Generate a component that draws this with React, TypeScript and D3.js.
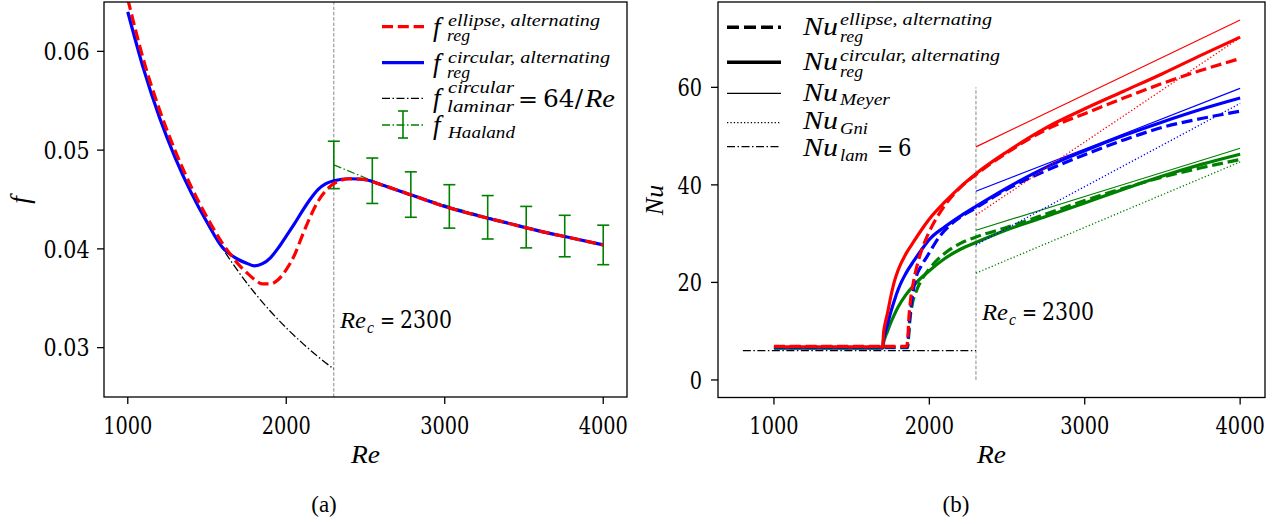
import React from 'react';
import * as d3 from 'd3';

// ---------------- Panel (a): friction factor ----------------
const reReg = [1000, 1100, 1200, 1300, 1400, 1500, 1600, 1650, 1700, 1750, 1800, 1850, 1900, 1950, 2000, 2050, 2100, 2150, 2200, 2250, 2300, 2400, 2500, 2600, 2800, 3000, 3200, 3400, 3600, 3800, 4000];
const fCircular = [0.0640, 0.0582, 0.0533, 0.0492, 0.0457, 0.0427, 0.0401, 0.0394, 0.0389, 0.03855, 0.03828, 0.0385, 0.0391, 0.0401, 0.0413, 0.0425, 0.0438, 0.0450, 0.0460, 0.0466, 0.0469, 0.0471, 0.0470, 0.0465, 0.0454, 0.0443, 0.0434, 0.0426, 0.0418, 0.0411, 0.0404];
const fEllipse = [0.0653, 0.0591, 0.0541, 0.0499, 0.0463, 0.0432, 0.0405, 0.0394, 0.0384, 0.0376, 0.0369, 0.03645, 0.03645, 0.0369, 0.0379, 0.0393, 0.0413, 0.0432, 0.0448, 0.0459, 0.0466, 0.0471, 0.0470, 0.0465, 0.0454, 0.0443, 0.0434, 0.0426, 0.0418, 0.0411, 0.0404];
const reLaminar = [1000, 1100, 1200, 1300, 1400, 1500, 1600, 1700, 1800, 1900, 2000, 2100, 2200, 2300];
const fLaminar = [0.0640, 0.05818, 0.05333, 0.04923, 0.04571, 0.04267, 0.0400, 0.03765, 0.03556, 0.03368, 0.0320, 0.03048, 0.02909, 0.02783];
const reHaaland = [2300, 2543, 2786, 3029, 3271, 3514, 3757, 4000];
const fHaaland = [0.0485, 0.0469, 0.0455, 0.0443, 0.0432, 0.0422, 0.0413, 0.0404];
const errHaaland = [0.0024, 0.0023, 0.0023, 0.0022, 0.0022, 0.0021, 0.0021, 0.0020];
const fTicks = [0.03, 0.04, 0.05, 0.06];
const reTicks = [1000, 2000, 3000, 4000];
const reCritical = 2300;

// ---------------- Panel (b): Nusselt number ----------------
const reSolid = [1000, 1700, 1705, 1715, 1730, 1750, 1775, 1800, 1850, 1900, 1950, 2000, 2100, 2200, 2300, 2500, 2750, 3000, 3250, 3500, 3750, 4000];
const nuCircRed = [6.8, 6.8, 9.5, 11.5, 13.6, 16.8, 20.2, 22.6, 25.9, 28.4, 30.8, 33.0, 36.5, 39.6, 42.3, 46.8, 51.7, 55.6, 59.2, 62.8, 66.6, 70.3];
const nuCircBlue = [6.6, 6.6, 8.3, 9.7, 11.3, 13.7, 16.3, 18.6, 21.9, 24.4, 26.7, 28.8, 31.4, 33.6, 35.6, 39.4, 43.6, 47.0, 50.1, 52.9, 55.5, 57.8];
const nuCircGreen = [6.5, 6.5, 7.6, 8.7, 9.9, 11.6, 13.4, 15.0, 17.5, 19.4, 21.0, 22.4, 24.9, 26.8, 28.2, 30.8, 33.5, 36.3, 39.1, 41.8, 44.2, 46.3];

const reEllRed = [1000, 1855, 1862, 1868, 1877, 1900, 1930, 1960, 1985, 2050, 2100, 2200, 2300, 2500, 2750, 3000, 3250, 3500, 3750, 4000];
const nuEllRed = [6.9, 6.9, 9.0, 12.5, 15.8, 20.5, 24.5, 27.5, 29.4, 33.4, 35.8, 39.5, 42.1, 46.6, 51.3, 54.6, 57.8, 60.8, 63.5, 65.9];
const reEllBlue = [1000, 1858, 1865, 1872, 1882, 1895, 1910, 1950, 1985, 2070, 2150, 2300, 2500, 2750, 3000, 3250, 3500, 3750, 4000];
const nuEllBlue = [6.7, 6.7, 9.0, 12.0, 15.0, 18.0, 20.5, 23.5, 25.3, 29.6, 32.2, 35.3, 39.1, 42.9, 46.2, 49.2, 51.8, 53.6, 55.1];
const reEllGreen = [1000, 1860, 1867, 1875, 1890, 1920, 1950, 2000, 2100, 2200, 2300, 2500, 2750, 3000, 3250, 3500, 3750, 4000];
const nuEllGreen = [6.6, 6.6, 9.0, 12.3, 15.5, 18.5, 20.5, 22.8, 26.0, 28.0, 29.3, 31.3, 34.0, 36.8, 39.3, 41.6, 43.5, 45.2];

const reCorr = [2300, 3150, 4000];
const nuMeyerRed = [47.8, 60.8, 73.8];
const nuMeyerBlue = [38.7, 49.2, 59.8];
const nuMeyerGreen = [30.7, 39.1, 47.5];
const nuGniRed = [33.8, 52.0, 70.2];
const nuGniBlue = [27.7, 42.2, 56.7];
const nuGniGreen = [21.9, 33.3, 44.7];

const reLam = [800, 2300];
const nuLam = [6, 6];
const nuTicks = [0, 20, 40, 60];
const nuCritLine = [0, 60];

const RED = '#ff0000';
const BLUE = '#0000ff';
const GREEN = '#008000';
const FTXT = 'Liberation Serif';
const FNUM = 'DejaVu Serif';
const DASH = '11,4.8';
const DASHDOT = '8,2.5,1.5,2.5';
const DOT = '1.3,2.1';
const SM = 17;

function mkLine(xs: number[], ys: number[], sx: any, sy: any, curve: any = d3.curveMonotoneX) {
  const pts = xs.map((x, i) => [x, ys[i]] as [number, number]);
  return d3.line<[number, number]>().x(d => sx(d[0])).y(d => sy(d[1])).curve(curve)(pts) || '';
}

// text in Times-like serif (letters)
const T = ({ w, style, ...p }: any) => (
  <text style={{ fontFamily: FTXT, ...(style || {}) }} {...(w ? { textLength: w, lengthAdjust: 'spacingAndGlyphs' } : {})} {...p} />
);
// numbers / symbols: serif digits, horizontally condensed to Times widths
const N = ({ w, style, ...p }: any) => (
  <text style={{ fontFamily: FNUM, ...(style || {}) }} {...(w ? { textLength: w, lengthAdjust: 'spacingAndGlyphs' } : {})} {...p} />
);
const numW = (s: string) => s.split('').reduce((a, c) => a + (c === '.' ? 9 : 12.3), 0);

export default function App() {
  const xL = d3.scaleLinear().domain([850, 4150]).range([104, 627]);
  const yL = d3.scaleLinear().domain([0.025, 0.065]).range([397, 2]);
  const xR = d3.scaleLinear().domain([640, 4160]).range([718, 1265]);
  const yR = d3.scaleLinear().domain([-3.6, 77.5]).range([397.5, 2]);
  const fmtF = d3.format('.2f');

  const colorsR = [
    { c: RED, solid: nuCircRed, ellRe: reEllRed, ell: nuEllRed, meyer: nuMeyerRed, gni: nuGniRed },
    { c: BLUE, solid: nuCircBlue, ellRe: reEllBlue, ell: nuEllBlue, meyer: nuMeyerBlue, gni: nuGniBlue },
    { c: GREEN, solid: nuCircGreen, ellRe: reEllGreen, ell: nuEllGreen, meyer: nuMeyerGreen, gni: nuGniGreen },
  ];
  const drawOrder = [2, 1, 0];
  const it = { fontStyle: 'italic' };

  const ReC = ({ x, y }: { x: number; y: number }) => (
    <g>
      <T x={x} y={y} fontSize={24} fontStyle="italic" w={26}>Re</T>
      <T x={x + 27} y={y + 5} fontSize={16} fontStyle="italic" w={7}>c</T>
      <N x={x + 40} y={y} fontSize={22} w={15}>=</N>
      <N x={x + 60} y={y} fontSize={24} w={52}>2300</N>
    </g>
  );

  return (
    <svg width={1286} height={524} style={{ position: 'absolute', left: 0, top: 0, background: '#fff' }}>
      <defs>
        <clipPath id="clipL"><rect x={104} y={2} width={523} height={395} /></clipPath>
        <clipPath id="clipR"><rect x={718} y={2} width={547} height={395.5} /></clipPath>
      </defs>

      {/* ================= Panel (a) ================= */}
      <g clipPath="url(#clipL)">
        <line x1={xL(reCritical)} x2={xL(reCritical)} y1={yL(0.025)} y2={yL(0.065)} stroke="#888" strokeWidth={1} strokeDasharray="3.5,1.8" />
        <path d={mkLine(reLaminar, fLaminar, xL, yL)} fill="none" stroke="#000" strokeWidth={1.3} strokeDasharray={DASHDOT} />
        <path d={mkLine(reHaaland, fHaaland, xL, yL, d3.curveLinear)} fill="none" stroke={GREEN} strokeWidth={1.3} strokeDasharray={DASHDOT} />
        {reHaaland.map((r, i) => (
          <g key={i} stroke={GREEN} strokeWidth={1.6}>
            <line x1={xL(r)} x2={xL(r)} y1={yL(fHaaland[i] - errHaaland[i])} y2={yL(fHaaland[i] + errHaaland[i])} />
            <line x1={xL(r) - 6} x2={xL(r) + 6} y1={yL(fHaaland[i] - errHaaland[i])} y2={yL(fHaaland[i] - errHaaland[i])} />
            <line x1={xL(r) - 6} x2={xL(r) + 6} y1={yL(fHaaland[i] + errHaaland[i])} y2={yL(fHaaland[i] + errHaaland[i])} />
          </g>
        ))}
        <path d={mkLine(reReg, fCircular, xL, yL)} fill="none" stroke={BLUE} strokeWidth={3.2} />
        <path d={mkLine(reReg, fEllipse, xL, yL)} fill="none" stroke={RED} strokeWidth={3.2} strokeDasharray={DASH} />
      </g>
      <rect x={104} y={2} width={523} height={395} fill="none" stroke="#000" strokeWidth={1.3} />
      {reTicks.map(t => (
        <g key={t}>
          <line x1={xL(t)} x2={xL(t)} y1={397} y2={404} stroke="#000" strokeWidth={1.3} />
          <N x={xL(t) - numW(String(t)) / 2} y={434} fontSize={24} w={numW(String(t))}>{t}</N>
        </g>
      ))}
      {fTicks.map(t => (
        <g key={t}>
          <line x1={97} x2={104} y1={yL(t)} y2={yL(t)} stroke="#000" strokeWidth={1.3} />
          <N x={89.5 - numW(fmtF(t))} y={yL(t) + 8.7} fontSize={24} w={numW(fmtF(t))}>{fmtF(t)}</N>
        </g>
      ))}
      <T x={351} y={463} fontSize={25} fontStyle="italic" w={29}>Re</T>
      <T transform="translate(29,200) rotate(-90)" fontSize={27} fontStyle="italic" textAnchor="middle">f</T>
      <T x={324} y={512} fontSize={23} textAnchor="middle">(a)</T>
      <ReC x={340} y={328} />

      {/* legend (a) */}
      <line x1={382} x2={424} y1={26.7} y2={26.7} stroke={RED} strokeWidth={3.2} strokeDasharray={DASH} />
      <T x={433} y={36} fontSize={27} style={it}>f</T>
      <T x={448} y={25.5} fontSize={SM} style={it} w={152}>ellipse, alternating</T>
      <T x={447} y={41} fontSize={SM} style={it} w={23}>reg</T>

      <line x1={382} x2={424} y1={62.7} y2={62.7} stroke={BLUE} strokeWidth={3.2} />
      <T x={433} y={72} fontSize={27} style={it}>f</T>
      <T x={448} y={62.5} fontSize={SM} style={it} w={162}>circular, alternating</T>
      <T x={447} y={77.5} fontSize={SM} style={it} w={23}>reg</T>

      <line x1={382} x2={424} y1={98.3} y2={98.3} stroke="#000" strokeWidth={1.3} strokeDasharray={DASHDOT} />
      <T x={433} y={107} fontSize={27} style={it}>f</T>
      <T x={448} y={92.5} fontSize={SM} style={it} w={66}>circular</T>
      <T x={447} y={111.5} fontSize={SM} style={it} w={67}>laminar</T>
      <N x={518} y={106.7} fontSize={22} w={20}>=</N>
      <N x={543} y={106.7} fontSize={24} w={40}>64/</N>
      <T x={585} y={106.7} fontSize={25} style={it} w={30}>Re</T>

      <line x1={382} x2={424} y1={125} y2={125} stroke={GREEN} strokeWidth={1.3} strokeDasharray={DASHDOT} />
      <g stroke={GREEN} strokeWidth={1.6}>
        <line x1={403} x2={403} y1={111} y2={138} />
        <line x1={398} x2={408} y1={111} y2={111} />
        <line x1={398} x2={408} y1={138} y2={138} />
      </g>
      <T x={433} y={134} fontSize={27} style={it}>f</T>
      <T x={448} y={138} fontSize={SM} style={it} w={67}>Haaland</T>

      {/* ================= Panel (b) ================= */}
      <g clipPath="url(#clipR)">
        <line x1={xR(reCritical)} x2={xR(reCritical)} y1={yR(nuCritLine[0])} y2={yR(nuCritLine[1])} stroke="#888" strokeWidth={1} strokeDasharray="3.5,1.8" />
        <path d={mkLine(reLam, nuLam, xR, yR, d3.curveLinear)} fill="none" stroke="#000" strokeWidth={1.3} strokeDasharray={DASHDOT} />
        {drawOrder.map(k => (
          <path key={'s' + k} d={mkLine(reSolid, colorsR[k].solid, xR, yR)} fill="none" stroke={colorsR[k].c} strokeWidth={3.2} />
        ))}
        {drawOrder.map(k => (
          <path key={'d' + k} d={mkLine(colorsR[k].ellRe, colorsR[k].ell, xR, yR)} fill="none" stroke={colorsR[k].c} strokeWidth={3.2} strokeDasharray={DASH} />
        ))}
        {drawOrder.map(k => (
          <g key={'m' + k}>
            <path d={mkLine(reCorr, colorsR[k].meyer, xR, yR)} fill="none" stroke={colorsR[k].c} strokeWidth={1.2} />
            <path d={mkLine(reCorr, colorsR[k].gni, xR, yR)} fill="none" stroke={colorsR[k].c} strokeWidth={1.3} strokeDasharray={DOT} />
          </g>
        ))}
      </g>
      <rect x={718} y={2} width={547} height={395.5} fill="none" stroke="#000" strokeWidth={1.3} />
      {reTicks.map(t => (
        <g key={t}>
          <line x1={xR(t)} x2={xR(t)} y1={397.5} y2={404.5} stroke="#000" strokeWidth={1.3} />
          <N x={xR(t) - numW(String(t)) / 2} y={434} fontSize={24} w={numW(String(t))}>{t}</N>
        </g>
      ))}
      {nuTicks.map(t => (
        <g key={t}>
          <line x1={711} x2={718} y1={yR(t)} y2={yR(t)} stroke="#000" strokeWidth={1.3} />
          <N x={702 - numW(String(t))} y={yR(t) + 8.7} fontSize={24} w={numW(String(t))}>{t}</N>
        </g>
      ))}
      <T x={977} y={463} fontSize={25} fontStyle="italic" w={29}>Re</T>
      <T transform="translate(663,200) rotate(-90)" fontSize={26} fontStyle="italic" textAnchor="middle">Nu</T>
      <T x={956} y={512} fontSize={23} textAnchor="middle">(b)</T>
      <ReC x={982} y={320} />

      {/* legend (b) */}
      <line x1={727} x2={781} y1={27.3} y2={27.3} stroke="#000" strokeWidth={3.4} strokeDasharray="12,5" />
      <T x={803} y={35} fontSize={26} style={it} w={35}>Nu</T>
      <T x={840} y={24.5} fontSize={SM} style={it} w={152}>ellipse, alternating</T>
      <T x={840} y={42} fontSize={SM} style={it} w={23}>reg</T>

      <line x1={727} x2={781} y1={62.3} y2={62.3} stroke="#000" strokeWidth={3.4} />
      <T x={803} y={70} fontSize={26} style={it} w={35}>Nu</T>
      <T x={840} y={60.5} fontSize={SM} style={it} w={160}>circular, alternating</T>
      <T x={840} y={77} fontSize={SM} style={it} w={23}>reg</T>

      <line x1={727} x2={781} y1={93.3} y2={93.3} stroke="#000" strokeWidth={1.2} />
      <T x={803} y={100.5} fontSize={26} style={it} w={35}>Nu</T>
      <T x={840} y={105} fontSize={SM} style={it} w={50}>Meyer</T>

      <line x1={727} x2={781} y1={122.7} y2={122.7} stroke="#000" strokeWidth={1.3} strokeDasharray={DOT} />
      <T x={803} y={128.5} fontSize={26} style={it} w={35}>Nu</T>
      <T x={840} y={133.5} fontSize={SM} style={it} w={28}>Gni</T>

      <line x1={727} x2={781} y1={146.7} y2={146.7} stroke="#000" strokeWidth={1.3} strokeDasharray={DASHDOT} />
      <T x={803} y={156} fontSize={26} style={it} w={35}>Nu</T>
      <T x={840} y={161} fontSize={SM} style={it} w={28}>lam</T>
      <N x={877} y={156} fontSize={22} w={16}>=</N>
      <N x={898} y={156} fontSize={24} w={13.5}>6</N>
    </svg>
  );
}
